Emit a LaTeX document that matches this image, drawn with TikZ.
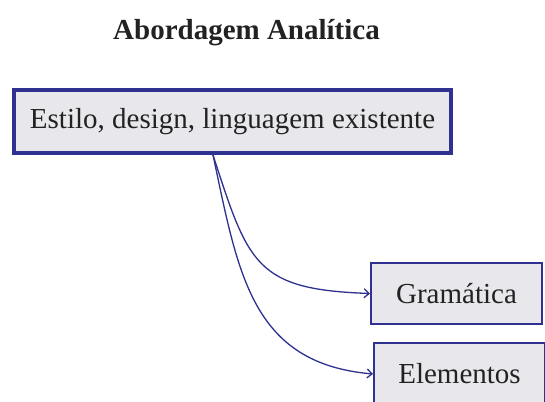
\documentclass[tikz,border=0pt]{standalone}
\usepackage{fontspec}
\setmainfont{Liberation Serif}
\usetikzlibrary{arrows.meta}
\definecolor{bord}{HTML}{2E3190}
\definecolor{boxfill}{HTML}{E8E8EC}
\definecolor{txt}{HTML}{222222}
\tikzset{
  box/.style={draw=bord, fill=boxfill, text=txt, inner sep=0pt, font=\fontsize{29}{34}\selectfont},
  link/.style={draw=bord, line width=1.3pt, -{Straight Barb[length=5pt,width=9pt]}}
}
\begin{document}
\begin{tikzpicture}[x=1pt,y=1pt]
\clip (0,0) rectangle (545,401);
\fill[white] (0,0) rectangle (545,401);
\node[text=txt, font=\fontsize{29}{34}\selectfont\bfseries] (title) at (246.5,368.5) {Abordagem Analítica};
\node[box, line width=4pt, minimum width=437pt, minimum height=63pt] (main) at (232.5,279.5) {Estilo, design, linguagem existente};
\node[box, line width=2pt, minimum width=171pt, minimum height=61pt] (gram) at (456.5,107.5) {Gramática};
\node[box, line width=2pt, minimum width=171pt, minimum height=61pt] (elem) at (459.5,27) {Elementos};
\coordinate (src) at ([xshift=-19.5pt]main.south);
\draw[link] (src) to[out=-72, in=178, looseness=1.4] (gram.west);
\draw[link] (src) to[out=-78, in=175, looseness=1.15] (elem.west);
\end{tikzpicture}
\end{document}
